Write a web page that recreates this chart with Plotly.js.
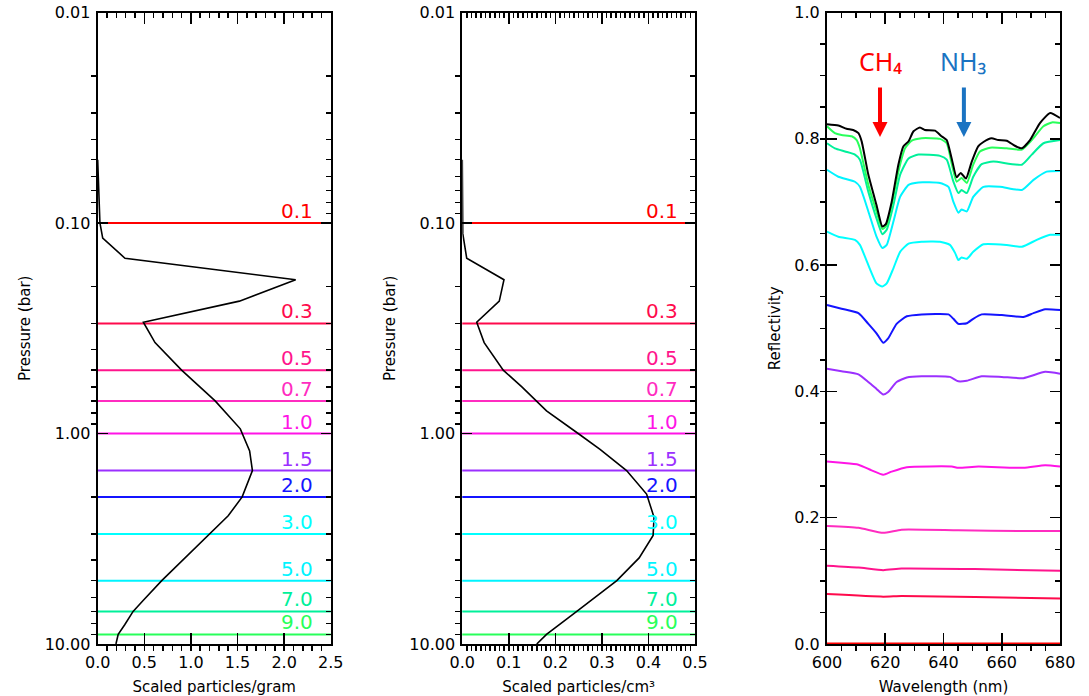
<!DOCTYPE html>
<html>
<head>
<meta charset="utf-8">
<script src="https://cdn.plot.ly/plotly-3.0.1.min.js"></script>
<style>html,body{margin:0;padding:0;background:#fff;}#chart{width:1089px;height:696px;}</style>
</head>
<body>
<div id="chart"></div>
<script>
// ---- pressure levels ----
const pressures = [0.1, 0.3, 0.5, 0.7, 1.0, 1.5, 2.0, 3.0, 5.0, 7.0, 9.0];
const levelLabels = ['0.1', '0.3', '0.5', '0.7', '1.0', '1.5', '2.0', '3.0', '5.0', '7.0', '9.0'];
const levelColors = ['#ff0000', '#ff0a4c', '#ff148c', '#ff2cc0', '#ff14e6', '#9b30ff', '#1414ff', '#00ffff', '#00f4ff', '#00f09a', '#28ff5a'];

// ---- profile: scaled particles / gram ----
const gramP = [0.05, 0.08, 0.1, 0.118, 0.147, 0.186, 0.235, 0.296, 0.37, 0.5, 0.7, 0.95, 1.21, 1.5, 2.0, 2.46, 3.0, 5.0, 6.2, 7.0, 8.1, 9.0, 10.0];
const gramX = [0.0, 0.012, 0.024, 0.054, 0.293, 2.124, 1.52, 0.49, 0.615, 0.90, 1.26, 1.53, 1.63, 1.66, 1.55, 1.40, 1.20, 0.687, 0.49, 0.38, 0.29, 0.22, 0.196];

// ---- profile: scaled particles / cm^3 ----
const cmP = [0.05, 0.112, 0.147, 0.186, 0.235, 0.296, 0.37, 0.5, 0.6, 0.7, 0.78, 1.0, 1.19, 1.5, 1.94, 2.5, 3.05, 3.9, 5.0, 7.0, 9.0, 10.0];
const cmX = [0.0, 0.001, 0.0095, 0.0896, 0.0795, 0.031, 0.047, 0.088, 0.128, 0.16, 0.181, 0.249, 0.296, 0.353, 0.396, 0.412, 0.41, 0.38, 0.332, 0.246, 0.181, 0.16];

// ---- reflectivity spectra ----
const wlTotal = [600, 603.9, 606.7, 609, 610.8, 611.9, 614.2, 617, 619, 620.2, 622.2, 624.5, 626.2, 628, 629.7, 631.9, 633.6, 637.1, 639.1, 641.1, 642.8, 644.5, 645.9, 647.7, 649.7, 651.9, 653.7, 656.5, 658.8, 661.7, 664.5, 666.9, 669.7, 673.1, 676.6, 680];
const rTotal = [0.823, 0.821, 0.816, 0.814, 0.809, 0.796, 0.743, 0.695, 0.661, 0.665, 0.700, 0.759, 0.788, 0.796, 0.812, 0.818, 0.814, 0.813, 0.805, 0.798, 0.769, 0.739, 0.746, 0.737, 0.764, 0.788, 0.795, 0.801, 0.798, 0.797, 0.789, 0.785, 0.798, 0.825, 0.841, 0.833];

const wl90 = [600, 602.7, 605, 608.5, 610.2, 611.3, 614.2, 617, 619, 620.5, 622.2, 624.5, 626.8, 629.1, 632.5, 638.8, 641.1, 642.8, 644.5, 646.2, 648, 650.2, 652.5, 656, 661.7, 666.9, 670.3, 674.3, 677.2, 680];
const r90 = [0.820, 0.809, 0.806, 0.804, 0.798, 0.785, 0.727, 0.685, 0.657, 0.663, 0.695, 0.748, 0.785, 0.797, 0.801, 0.800, 0.793, 0.761, 0.732, 0.738, 0.730, 0.759, 0.780, 0.786, 0.785, 0.783, 0.798, 0.820, 0.826, 0.825];

const wl70 = [600, 602.7, 606.2, 609.6, 611.3, 614.2, 617, 619, 620.5, 622.8, 625.1, 628, 631.4, 638.8, 641.1, 643.4, 645.1, 646.2, 648, 650.2, 653.1, 657.1, 666.9, 670.3, 674.3, 680];
const r70 = [0.793, 0.785, 0.780, 0.775, 0.767, 0.716, 0.674, 0.649, 0.656, 0.695, 0.743, 0.769, 0.775, 0.773, 0.767, 0.732, 0.714, 0.719, 0.714, 0.740, 0.760, 0.764, 0.759, 0.775, 0.793, 0.798];

const wl50 = [600, 603.9, 609.6, 611.3, 614.2, 617, 619, 620.5, 622.8, 625.1, 628, 631.4, 638.8, 641.7, 643.4, 645.1, 646.2, 648, 650.2, 653.7, 659.4, 666.9, 670.9, 675.4, 680];
const r50 = [0.751, 0.740, 0.732, 0.724, 0.685, 0.645, 0.627, 0.632, 0.669, 0.708, 0.727, 0.731, 0.730, 0.724, 0.700, 0.683, 0.688, 0.685, 0.708, 0.724, 0.724, 0.719, 0.735, 0.748, 0.749];

const wl30 = [600, 603.9, 609.6, 611.3, 614.2, 617, 619, 620.5, 622.8, 625.1, 628, 632.5, 638.8, 642.2, 644, 645.1, 646.2, 648, 650.2, 653.7, 661.7, 666.9, 672, 676.6, 680];
const r30 = [0.653, 0.645, 0.640, 0.632, 0.600, 0.571, 0.566, 0.571, 0.595, 0.621, 0.634, 0.637, 0.637, 0.632, 0.619, 0.608, 0.612, 0.610, 0.621, 0.633, 0.632, 0.629, 0.640, 0.648, 0.648];

const wl20 = [600, 605, 610.8, 614.2, 617, 619.3, 621, 623.9, 627.4, 632.5, 641.7, 643.4, 645.1, 648, 650.2, 653.1, 660, 667.4, 670.9, 674.9, 680];
const r20 = [0.537, 0.531, 0.524, 0.507, 0.492, 0.477, 0.484, 0.507, 0.519, 0.522, 0.522, 0.515, 0.507, 0.508, 0.515, 0.522, 0.521, 0.518, 0.524, 0.530, 0.529];

const wl15 = [600, 605, 610.8, 614.2, 617, 619.3, 621, 623.9, 627.4, 632.5, 642.2, 645.1, 648, 653.1, 660, 667.4, 674.9, 680];
const r15 = [0.436, 0.432, 0.427, 0.415, 0.404, 0.395, 0.399, 0.415, 0.422, 0.424, 0.423, 0.416, 0.417, 0.424, 0.423, 0.421, 0.431, 0.428];

const wl10 = [600, 605, 610.8, 615.3, 619.3, 622.2, 627.4, 642.8, 645.1, 652, 667.4, 674.9, 680];
const r10 = [0.289, 0.287, 0.284, 0.275, 0.268, 0.273, 0.280, 0.281, 0.279, 0.281, 0.279, 0.283, 0.281];

const wl07 = [600, 610.8, 619.3, 625.6, 645, 667.4, 680];
const r07 = [0.187, 0.184, 0.176, 0.181, 0.180, 0.179, 0.179];

const wl05 = [600, 610.8, 619.3, 625.6, 650.8, 680];
const r05 = [0.124, 0.121, 0.117, 0.1195, 0.1186, 0.116];

const wl03 = [600, 619.3, 625.6, 650.8, 680];
const r03 = [0.079, 0.075, 0.076, 0.0746, 0.072];

const wl01 = [600, 680];
const r01 = [0.001, 0.001];

// ---- absorption bands ----
const bandNames = ['CH₄', 'NH₃'];
const bandWl = [618.2, 647.0];
const bandTipR = [0.803, 0.803];
const bandColors = ['#ff0000', '#1a73c2'];

// ---- axis tick labels ----
const pTickVals = [0.01, 0.1, 1, 10];
const pTickText = ['0.01', '0.10', '1.00', '10.00'];

// ---------------------------------------------------------------
const FONT = 'DejaVu Sans, sans-serif';
const minorLog = [];
[0.01, 0.1, 1].forEach(d => { for (let k = 2; k <= 9; k++) minorLog.push(k * d); });

const traces = [];
traces.push({x: gramX, y: gramP, xaxis: 'x', yaxis: 'y', mode: 'lines', line: {color: '#000', width: 1.6}, hoverinfo: 'skip'});
traces.push({x: cmX, y: cmP, xaxis: 'x2', yaxis: 'y2', mode: 'lines', line: {color: '#000', width: 1.6}, hoverinfo: 'skip'});

const spectra = [
  [wl01, r01, 0], [wl03, r03, 1], [wl05, r05, 2], [wl07, r07, 3], [wl10, r10, 4],
  [wl15, r15, 5], [wl20, r20, 6], [wl30, r30, 7], [wl50, r50, 8], [wl70, r70, 9], [wl90, r90, 10]
];
spectra.forEach(s => {
  traces.push({x: s[0], y: s[1], xaxis: 'x3', yaxis: 'y3', mode: 'lines',
    line: {color: levelColors[s[2]], width: 2, shape: 'spline', smoothing: 0.5}, hoverinfo: 'skip'});
});
traces.push({x: wlTotal, y: rTotal, xaxis: 'x3', yaxis: 'y3', mode: 'lines',
  line: {color: '#000', width: 2, shape: 'spline', smoothing: 0.5}, hoverinfo: 'skip'});

const shapes = [];
const annotations = [];
['x', 'x2'].forEach((xa, i) => {
  const ya = i === 0 ? 'y' : 'y2';
  pressures.forEach((p, j) => {
    shapes.push({type: 'line', xref: xa + ' domain', yref: ya, x0: 0, x1: 1, y0: p, y1: p,
      line: {color: levelColors[j], width: 2}, layer: 'below'});
    annotations.push({xref: xa + ' domain', yref: ya, x: 0.934, y: Math.log10(p), text: levelLabels[j],
      showarrow: false, xanchor: 'right', yanchor: 'bottom', yshift: -2,
      font: {family: FONT, size: 20, color: levelColors[j]}});
  });
});

bandNames.forEach((name, i) => {
  annotations.push({xref: 'x3', yref: 'y3', x: bandWl[i], y: bandTipR[i], text: name,
    showarrow: true, ax: 0, ay: -76, arrowhead: 2, arrowsize: 0.75, arrowwidth: 4,
    arrowcolor: bandColors[i], startstandoff: 8,
    font: {family: 'Noto Sans, Open Sans, sans-serif', size: 25, color: bandColors[i]}});
});

const tickFont = {family: FONT, size: 16, color: '#000'};
const titleFont = {family: FONT, size: 15, color: '#000'};
const common = {showline: true, linewidth: 2, linecolor: '#000', mirror: true, ticks: 'inside',
  tickwidth: 1.5, tickcolor: '#000', showgrid: false, zeroline: false, tickfont: tickFont, automargin: false};
const yDom = [0.0747, 0.982];

function xax(domain, range, dtick, minor, title, anchor) {
  return Object.assign({}, common, {domain: domain, anchor: anchor, range: range, dtick: dtick,
    tickformat: dtick < 1 ? '.1f' : 'd', ticklen: 11, ticklabelstandoff: 3,
    minor: {dtick: minor, ticklen: 5, tickwidth: 1.5, tickcolor: '#000'},
    title: {text: title, font: titleFont, standoff: 10}});
}
function pax(domain, anchor) {
  return Object.assign({}, common, {domain: domain, anchor: anchor, type: 'log', range: [1, -2],
    tickmode: 'array', tickvals: pTickVals, ticktext: pTickText, ticklen: 10, ticklabelstandoff: 2,
    minor: {tickmode: 'array', tickvals: minorLog, ticklen: 5, tickwidth: 1.5, tickcolor: '#000'},
    title: {text: 'Pressure (bar)', font: titleFont, standoff: 10}});
}

const layout = {
  width: 1089, height: 696, margin: {l: 0, r: 0, t: 0, b: 0},
  paper_bgcolor: '#fff', plot_bgcolor: '#fff', showlegend: false,
  xaxis: xax([0.0897, 0.3037], [0, 2.5], 0.5, 0.1, 'Scaled particles/gram', 'y'),
  yaxis: pax(yDom, 'x'),
  xaxis2: xax([0.4245, 0.6382], [0, 0.5], 0.1, 0.01, 'Scaled particles/cm³', 'y2'),
  yaxis2: pax(yDom, 'x2'),
  xaxis3: xax([0.7594, 0.9734], [600, 680], 20, 5, 'Wavelength (nm)', 'y3'),
  yaxis3: Object.assign({}, common, {domain: yDom, anchor: 'x3', range: [0, 1], dtick: 0.2, tickformat: '.1f',
    ticklen: 10, ticklabelstandoff: 2, minor: {dtick: 0.05, ticklen: 5, tickwidth: 1.5, tickcolor: '#000'},
    title: {text: 'Reflectivity', font: titleFont, standoff: 10}}),
  shapes: shapes,
  annotations: annotations
};

// Tick-only overlay axes for the top and right frame edges (major + minor as separate axes)
const tickOnly = {ticks: 'inside', tickwidth: 1.5, tickcolor: '#000', showticklabels: false,
  showline: false, showgrid: false, zeroline: false};
let axN = 4;
function addX(over, anchor, range, dtick, len) {
  const id = axN++;
  layout['xaxis' + id] = Object.assign({}, tickOnly, {overlaying: over, anchor: anchor, side: 'top',
    range: range, dtick: dtick, ticklen: len});
  traces.push({x: [], y: [], xaxis: 'x' + id, yaxis: anchor, mode: 'lines', hoverinfo: 'skip'});
}
function addY(over, anchor, extra, len) {
  const id = axN++;
  layout['yaxis' + id] = Object.assign({}, tickOnly, {overlaying: over, anchor: anchor, side: 'right',
    ticklen: len}, extra);
  traces.push({x: [], y: [], xaxis: anchor, yaxis: 'y' + id, mode: 'lines', hoverinfo: 'skip'});
}
addX('x', 'y', [0, 2.5], 0.5, 11);
addX('x', 'y', [0, 2.5], 0.1, 5);
addX('x2', 'y2', [0, 0.5], 0.1, 11);
addX('x2', 'y2', [0, 0.5], 0.01, 5);
addX('x3', 'y3', [600, 680], 20, 11);
addX('x3', 'y3', [600, 680], 5, 5);
addY('y', 'x', {type: 'log', range: [1, -2], tickmode: 'array', tickvals: pTickVals}, 10);
addY('y', 'x', {type: 'log', range: [1, -2], tickmode: 'array', tickvals: minorLog}, 5);
addY('y2', 'x2', {type: 'log', range: [1, -2], tickmode: 'array', tickvals: pTickVals}, 10);
addY('y2', 'x2', {type: 'log', range: [1, -2], tickmode: 'array', tickvals: minorLog}, 5);
addY('y3', 'x3', {range: [0, 1], dtick: 0.2}, 10);
addY('y3', 'x3', {range: [0, 1], dtick: 0.05}, 5);

Plotly.newPlot('chart', traces, layout, {displayModeBar: false, staticPlot: true});
</script>
</body>
</html>
